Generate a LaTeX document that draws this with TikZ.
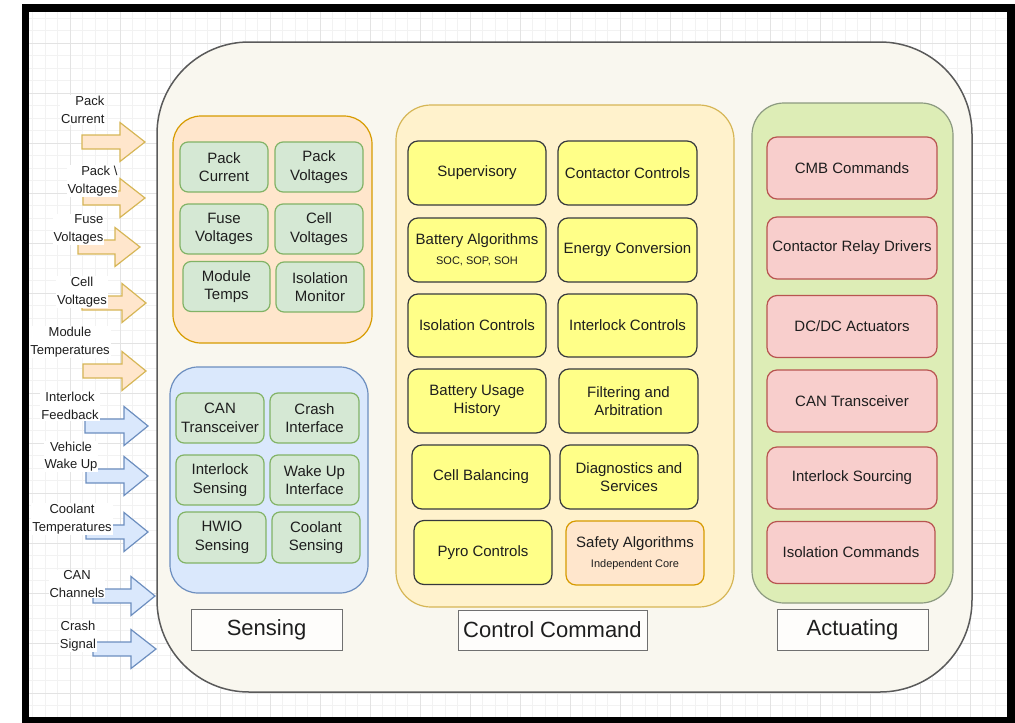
\documentclass[tikz,border=0pt]{standalone}
\usepackage{fontspec}
\setmainfont{Liberation Sans}
\usepackage{tikz}

\definecolor{ctfill}{HTML}{F9F7EF}
\definecolor{ctline}{HTML}{5A5A5A}
\definecolor{orfill}{HTML}{FFE6CC}
\definecolor{orline}{HTML}{D79B00}
\definecolor{arline}{HTML}{D6B656}
\definecolor{blfill}{HTML}{DAE8FC}
\definecolor{blline}{HTML}{6C8EBF}
\definecolor{grfill}{HTML}{D5E8D4}
\definecolor{grline}{HTML}{82B366}
\definecolor{cofill}{HTML}{FFF2CC}
\definecolor{coline}{HTML}{D6B656}
\definecolor{yefill}{HTML}{FFFF88}
\definecolor{yeline}{HTML}{36393D}
\definecolor{acfill}{HTML}{DDEDB6}
\definecolor{acline}{HTML}{8C9A80}
\definecolor{rdfill}{HTML}{F8CECC}
\definecolor{rdline}{HTML}{B85450}
\definecolor{lbfill}{HTML}{FEFDFB}
\definecolor{lbline}{HTML}{707070}
\definecolor{txt}{HTML}{1E1E1E}

\begin{document}
\begin{tikzpicture}[x=1pt, y=-1pt, line width=1.2pt,
    box/.style={rounded corners=8pt, align=center, text=txt, inner sep=2pt,
      font=\fontsize{15}{18.5}\selectfont},
    sensbox/.style={box, fill=grfill, draw=grline, minimum width=88pt, minimum height=50pt},
    ctrlbox/.style={box, fill=yefill, draw=yeline, rounded corners=10pt, minimum width=138pt, minimum height=64pt},
    actbox/.style={box, fill=rdfill, draw=rdline, rounded corners=10pt, minimum width=170pt, minimum height=62pt},
    titlebox/.style={draw=lbline, fill=lbfill, text=txt, line width=1pt,
      font=\fontsize{22}{26}\selectfont, minimum width=151pt, minimum height=41pt},
    inlabel/.style={fill=white, text=txt, inner sep=1pt, font=\fontsize{13}{17.5}\selectfont},
    orarrow/.style={fill=orfill, draw=arline},
    blarrow/.style={fill=blfill, draw=blline}]

    \useasboundingbox (0,0) rectangle (1015,723);

    % draw background grid
    \foreach \gx in {32.5,45,...,1007} \draw[black!5, line width=0.6pt] (\gx,12) -- (\gx,719);
    \foreach \gy in {18,30.5,...,719} \draw[black!5, line width=0.6pt] (29,\gy) -- (1007,\gy);
    \foreach \gx in {70,120,...,970} \draw[black!11, line width=0.8pt] (\gx,12) -- (\gx,719);
    \foreach \gy in {43,93,...,693} \draw[black!11, line width=0.8pt] (29,\gy) -- (1007,\gy);

    % draw black frame
    \draw[black, line width=7.5pt] (25.5,8) rectangle (1011,721);

    % draw main container
    \draw[fill=ctfill, draw=ctline, line width=1.5pt, rounded corners=92pt] (157,42) rectangle (972,692);

    % draw group panels
    \draw[fill=orfill, draw=orline, rounded corners=28pt] (173,116) rectangle (372,343);
    \draw[fill=blfill, draw=blline, rounded corners=28pt] (170,367) rectangle (368,593);
    \draw[fill=cofill, draw=coline, rounded corners=35pt] (396,105) rectangle (734,607);
    \draw[fill=acfill, draw=acline, rounded corners=32pt] (752,103) rectangle (953,603);

    % draw sensing boxes
    \node[sensbox] (packcur) at (224,167) {Pack\\Current};
    \node[sensbox] (packvolt) at (319,167) {Pack\\Voltages};
    \node[sensbox] (fusevolt) at (224,229) {Fuse\\Voltages};
    \node[sensbox] (cellvolt) at (319,229) {Cell\\Voltages};
    \node[sensbox, minimum width=87pt] (modtemps) at (226.5,286.5) {Module\\Temps};
    \node[sensbox] (isomon) at (320,287) {Isolation\\Monitor};

    \node[sensbox] (cantrans) at (220,418) {CAN\\Transceiver};
    \node[sensbox, minimum width=89pt] (crashif) at (314.5,418) {Crash\\Interface};
    \node[sensbox] (ilksens) at (220,480) {Interlock\\Sensing};
    \node[sensbox, minimum width=89pt] (wakeif) at (314.5,480) {Wake Up\\Interface};
    \node[sensbox, minimum height=51pt] (hwio) at (222,537.5) {HWIO\\Sensing};
    \node[sensbox, minimum height=51pt] (coolsens) at (316,537.5) {Coolant\\Sensing};

    % draw control boxes
    \node[ctrlbox] (superv) at (477,173) {Supervisory};
    \node[ctrlbox, minimum width=139pt] (contctrl) at (627.5,173) {Contactor Controls};
    \node[ctrlbox] (battalg) at (477,250) {Battery Algorithms\\[1pt]{\fontsize{11}{13}\selectfont SOC, SOP, SOH}};
    \node[ctrlbox, minimum width=139pt] (energy) at (627.5,250) {Energy Conversion};
    \node[ctrlbox, minimum height=63pt] (isoctrl) at (477,325.5) {Isolation Controls};
    \node[ctrlbox, minimum width=139pt, minimum height=63pt] (ilkctrl) at (627.5,325.5) {Interlock Controls};
    \node[ctrlbox] (usage) at (477,401) {Battery Usage\\History};
    \node[ctrlbox, minimum width=139pt] (filter) at (628.5,401) {Filtering and\\Arbitration};
    \node[ctrlbox] (cellbal) at (481,477) {Cell Balancing};
    \node[ctrlbox] (diag) at (629,477) {Diagnostics and\\Services};
    \node[ctrlbox] (pyro) at (483,552.5) {Pyro Controls};
    \node[ctrlbox, fill=orfill, draw=orline] (safety) at (635,553) {Safety Algorithms\\[1pt]{\fontsize{11}{13}\selectfont Independent Core}};

    % draw actuating boxes
    \node[actbox] (cmbcmd) at (852,168) {CMB Commands};
    \node[actbox] (relay) at (852,248) {Contactor Relay Drivers};
    \node[actbox] (dcdc) at (852,326.5) {DC/DC Actuators};
    \node[actbox] (cantx) at (852,401) {CAN Transceiver};
    \node[actbox] (ilksrc) at (852,478) {Interlock Sourcing};
    \node[actbox, minimum width=168pt] (isocmd) at (851,552.5) {Isolation Commands};

    % draw section titles
    \node[titlebox] (sensing) at (266.5,629.5) {Sensing};
    \node[titlebox, minimum width=189pt, minimum height=40pt] (ctrlcmd) at (552.5,630) {Control Command};
    \node[titlebox] (actuating) at (852.5,629.5) {Actuating};

    % draw input arrows
    \filldraw[orarrow] (82,135) -- (120,135) -- (120,122.5) -- (145,142) -- (120,161.5) -- (120,149) -- (82,149) -- cycle;
    \filldraw[orarrow] (83,191) -- (120,191) -- (120,178.5) -- (145,198) -- (120,217.5) -- (120,205) -- (83,205) -- cycle;
    \filldraw[orarrow] (78,240) -- (115,240) -- (115,227.5) -- (140,247) -- (115,266.5) -- (115,254) -- (78,254) -- cycle;
    \filldraw[orarrow] (82,296) -- (122,296) -- (122,283.5) -- (146,303) -- (122,322.5) -- (122,310) -- (82,310) -- cycle;
    \filldraw[orarrow] (83,364) -- (122,364) -- (122,351.5) -- (146,371) -- (122,390.5) -- (122,378) -- (83,378) -- cycle;
    \filldraw[blarrow] (85,419) -- (124,419) -- (124,406.5) -- (148,426) -- (124,445.5) -- (124,433) -- (85,433) -- cycle;
    \filldraw[blarrow] (86,469) -- (124,469) -- (124,456.5) -- (148,476) -- (124,495.5) -- (124,483) -- (86,483) -- cycle;
    \filldraw[blarrow] (86,525) -- (124,525) -- (124,512.5) -- (148,532) -- (124,551.5) -- (124,539) -- (86,539) -- cycle;
    \filldraw[blarrow] (93,589) -- (131,589) -- (131,576.5) -- (155,596) -- (131,615.5) -- (131,603) -- (93,603) -- cycle;
    \filldraw[blarrow] (93,642) -- (131,642) -- (131,629.5) -- (156,649) -- (131,668.5) -- (131,656) -- (93,656) -- cycle;

    % draw input labels
    \node[inlabel, align=right, anchor=east] (lpackcur) at (106,110) {Pack\\Current};
    \node[inlabel, align=right, anchor=east] (lpackvolt) at (119,181) {Pack \textbackslash\\Voltages};
    \node[inlabel, align=right, anchor=east] (lfusevolt) at (105,229.5) {Fuse\\Voltages};
    \node[inlabel, align=center] (lcellvolt) at (82,292) {Cell\\Voltages};
    \node[inlabel, align=center] (lmodtemp) at (70,342) {Module\\Temperatures};
    \node[inlabel, align=center] (lilkfb) at (70,406) {Interlock\\Feedback};
    \node[inlabel, align=center] (lwakeup) at (71,456.5) {Vehicle\\Wake Up};
    \node[inlabel, align=center] (lcooltemp) at (72,519) {Coolant\\Temperatures};
    \node[inlabel, align=center] (lcanch) at (77,584) {CAN\\Channels};
    \node[inlabel, align=center] (lcrash) at (78,636) {Crash\\Signal};

\end{tikzpicture}
\end{document}
